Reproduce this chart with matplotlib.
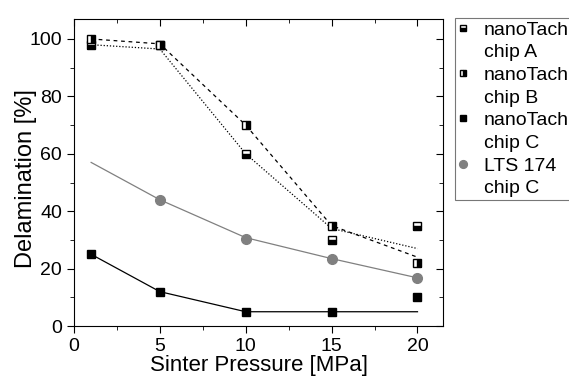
import matplotlib.pyplot as plt
from matplotlib.lines import Line2D
from matplotlib.ticker import MultipleLocator

plt.rcParams['font.family'] = ['Liberation Sans', 'DejaVu Sans']

pressure = [1, 5, 10, 15, 20]

# measured points
chip_a = [98, 98, 60, 30, 35]
chip_b = [100, 98, 70, 35, 22]
chip_c = [25, 12, 5, 5, 10]
lts_x = [5, 10, 15, 20]
lts_c = [44, 30.5, 23.3, 16.7]

# trend lines
line_a = [98, 96.5, 60, 34, 27]
line_b = [100, 98.3, 70, 35, 24]
line_c = [25, 12, 5, 5, 5]
line_lts = [57, 44, 30.8, 23.5, 16.8]

series_names = ['nanoTach', 'nanoTach', 'nanoTach', 'LTS 174']
chip_names = ['chip A', 'chip B', 'chip C', 'chip C']

fig = plt.figure(figsize=(5.69, 3.85), dpi=100)
ax = fig.add_axes([0.130, 0.153, 0.649, 0.798])

ax.plot(pressure, line_a, ls=(0, (1, 1.5)), color='black', lw=0.9)
ax.plot(pressure, line_b, ls=(0, (3, 3)), color='black', lw=0.9)
ax.plot(pressure, line_c, color='black', lw=0.9)
ax.plot(pressure, line_lts, color='#808080', lw=0.9)

ha, = ax.plot(pressure, chip_a, 's', ms=5.5, fillstyle='bottom', mfc='black', mfcalt='white',
              mec='black', mew=1)
hb, = ax.plot(pressure, chip_b, 's', ms=5.5, fillstyle='right', mfc='black', mfcalt='white',
              mec='black', mew=1)
hc, = ax.plot(pressure, chip_c, 's', ms=5.5, color='black')
hl, = ax.plot(lts_x, lts_c, 'o', ms=7, color='#808080')

ax.set_xlim(0, 21.5)
ax.set_ylim(0, 107)
ax.xaxis.set_major_locator(MultipleLocator(5))
ax.xaxis.set_minor_locator(MultipleLocator(2.5))
ax.yaxis.set_major_locator(MultipleLocator(20))
ax.yaxis.set_minor_locator(MultipleLocator(10))
ax.tick_params(which='both', direction='out', top=False, right=False, labelsize=14)
ax.tick_params(which='major', length=5)
ax.tick_params(which='minor', length=3)
sec = ax.secondary_yaxis('right')
sec.yaxis.set_major_locator(MultipleLocator(20))
sec.yaxis.set_minor_locator(MultipleLocator(10))
sec.tick_params(which='both', direction='in', labelright=False)
sec.tick_params(which='major', length=5)
sec.tick_params(which='minor', length=3)
sec.spines['right'].set_visible(False)
secx = ax.secondary_xaxis('top')
secx.xaxis.set_major_locator(MultipleLocator(5))
secx.xaxis.set_minor_locator(MultipleLocator(2.5))
secx.tick_params(which='both', direction='in', labeltop=False)
secx.tick_params(which='major', length=5)
secx.tick_params(which='minor', length=3)
secx.spines['top'].set_visible(False)

ax.set_xlabel('Sinter Pressure [MPa]', fontsize=16, labelpad=0)
ax.set_ylabel('Delamination [%]', fontsize=17)
ax.yaxis.set_label_coords(-0.10, 0.479)

# legend: marker on the first line of each two-line entry
handles, labels = [], []
for h, s, c in zip([ha, hb, hc, hl], series_names, chip_names):
    handles += [h, Line2D([], [], ls='none')]
    labels += [s, c]

leg = fig.legend(handles, labels, loc='upper left', bbox_to_anchor=(455 / 569, 1 - 18 / 385),
                 fontsize=14, frameon=True, fancybox=False, handlelength=0.5,
                 handletextpad=0.82, borderpad=0.15, labelspacing=0.26, borderaxespad=0,
                 markerscale=0.8)
leg.get_frame().set_edgecolor('#555555')
leg.get_frame().set_linewidth(0.8)

plt.savefig('out.png', dpi=100)
